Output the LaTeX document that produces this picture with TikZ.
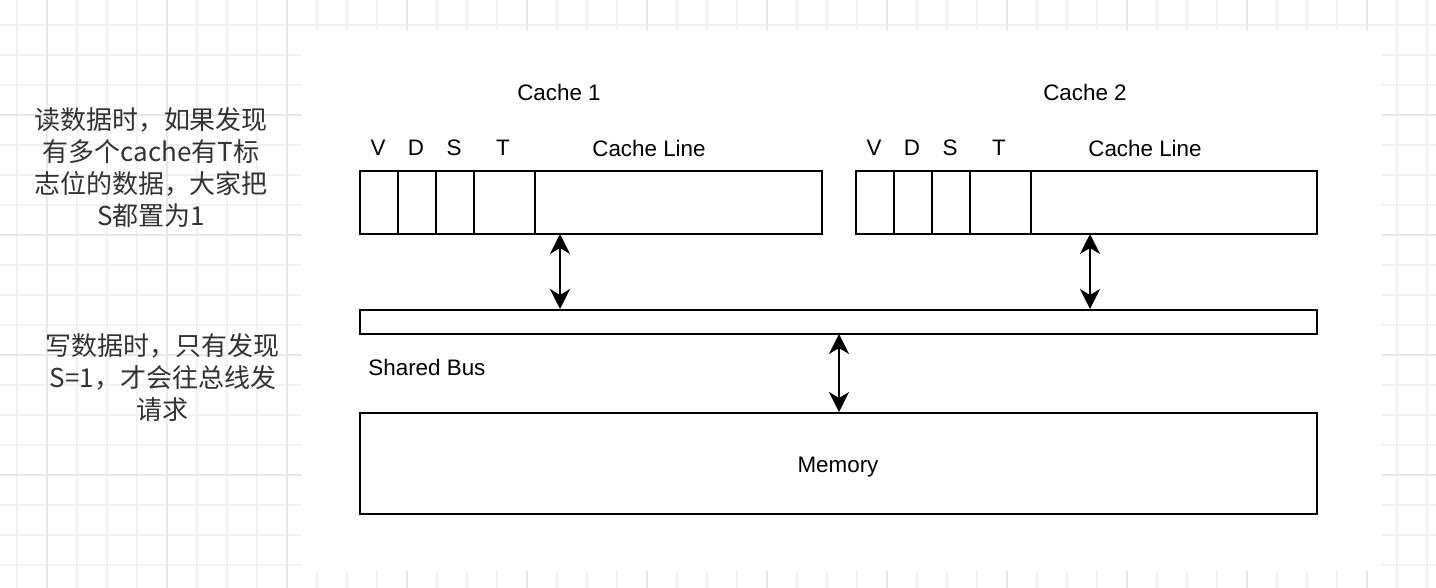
\documentclass[tikz,border=0pt]{standalone}
\usepackage{fontspec}
\setmainfont{Liberation Sans}
\newfontfamily\cjk{Noto Sans CJK SC}
\usetikzlibrary{arrows.meta,fit}
\definecolor{gridminor}{HTML}{F2F2F2}
\definecolor{gridmajor}{HTML}{E8E8E8}
\definecolor{notegrey}{HTML}{333333}
\tikzset{
  box/.style={draw=black, line width=1pt, inner sep=0pt, fill=white},
  lbl/.style={font=\fontsize{11.2pt}{13pt}\selectfont, text=black, inner sep=0pt},
  note/.style={font=\cjk\fontsize{13pt}{16pt}\selectfont, text=notegrey, align=center, inner sep=0pt},
  dbl/.style={line width=1pt, {Stealth[length=10pt,width=10pt,inset=3pt]}-{Stealth[length=10pt,width=10pt,inset=3pt]}}
}
\begin{document}
\begin{tikzpicture}[x=0.5pt,y=-0.5pt]
\useasboundingbox (0,0) rectangle (1436,588);
\fill[white] (0,0) rectangle (1436,588);
% grid
\foreach \gx in {17,47,...,1437} \draw[gridminor, line width=0.9pt] (\gx,0) -- (\gx,588);
\foreach \gy in {25,55,...,588} \draw[gridminor, line width=0.9pt] (0,\gy) -- (1436,\gy);
\foreach \gx in {47,167,...,1437} \draw[gridmajor, line width=0.9pt] (\gx,0) -- (\gx,588);
\foreach \gy in {115,235,...,588} \draw[gridmajor, line width=0.9pt] (0,\gy) -- (1436,\gy);
\fill[white] (302,30) rectangle (1382,571);

% Cache 1
\node[box, fit={(360,171)(398,234)}] (c1v) {};
\node[box, fit={(398,171)(436,234)}] (c1d) {};
\node[box, fit={(436,171)(474,234)}] (c1s) {};
\node[box, fit={(474,171)(535,234)}] (c1t) {};
\node[box, fit={(535,171)(822,234)}] (c1l) {};
% Cache 2
\node[box, fit={(856,171)(894,234)}] (c2v) {};
\node[box, fit={(894,171)(932,234)}] (c2d) {};
\node[box, fit={(932,171)(970,234)}] (c2s) {};
\node[box, fit={(970,171)(1031,234)}] (c2t) {};
\node[box, fit={(1031,171)(1317,234)}] (c2l) {};
% Bus and memory
\node[box, fit={(360,310)(1317,334)}] (bus) {};
\node[box, fit={(360,413)(1317,514)}] (mem) {};
\node[lbl] (memlbl) at (838,467) {Memory};

% labels
\node[lbl] (t1) at (559,92) {Cache 1};
\node[lbl] (t2) at (1085,92) {Cache 2};
\node[lbl] (v1) at (378,148) {V};
\node[lbl] (d1) at (416,148) {D};
\node[lbl] (s1) at (454,148) {S};
\node[lbl] (tt1) at (503,148) {T};
\node[lbl] (l1) at (649,148) {Cache Line};
\node[lbl] (v2) at (874,148) {V};
\node[lbl] (d2) at (912,148) {D};
\node[lbl] (s2) at (950,148) {S};
\node[lbl] (tt2) at (999,148) {T};
\node[lbl] (l2) at (1145,148) {Cache Line};
\node[lbl, anchor=west] (sb) at (368,367) {Shared Bus};

% notes
\node[note] (n1) at (151,168) {读数据时，如果发现\\有多个cache有T标\\志位的数据，大家把\\S都置为1};
\node[note] (n2) at (163,378) {写数据时，只有发现\\S=1，才会往总线发\\请求};

% arrows
\coordinate (a1) at (560,234);
\coordinate (a2) at (1090,234);
\coordinate (a3) at (839,334);
\draw[dbl] (a1) -- (a1 |- bus.north);
\draw[dbl] (a2) -- (a2 |- bus.north);
\draw[dbl] (a3) -- (a3 |- mem.north);
\end{tikzpicture}
\end{document}
